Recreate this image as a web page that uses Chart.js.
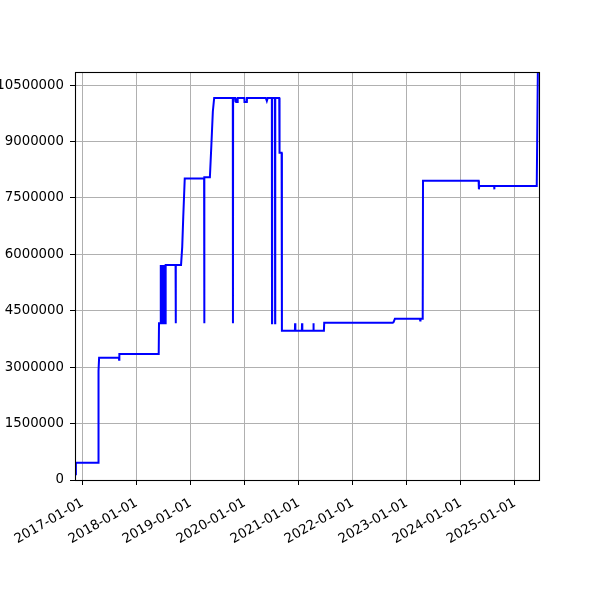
<!DOCTYPE html>
<html>
<head>
<meta charset="utf-8">
<script src="https://cdn.jsdelivr.net/npm/chart.js@4"></script>
<style>
html,body{margin:0;padding:0;background:#fff;}
#wrap{width:600px;height:600px;position:relative;}
</style>
</head>
<body>
<div id="wrap"><canvas id="c" width="600" height="600"></canvas></div>
<script>
const dates = [
'2016-11-14','2016-11-16','2017-04-16','2017-04-18','2017-04-22','2017-09-03','2017-09-04','2017-09-06',
'2018-05-30','2018-06-01','2018-06-12','2018-06-13','2018-06-15','2018-06-17','2018-06-19','2018-06-21',
'2018-06-24','2018-06-26','2018-06-29','2018-07-01','2018-07-04','2018-07-06','2018-07-09','2018-07-11',
'2018-07-14','2018-07-16','2018-09-21','2018-09-22','2018-09-23','2018-10-28','2018-11-05','2018-11-12',
'2018-11-22','2019-04-02','2019-04-03','2019-04-04','2019-05-11','2019-05-21','2019-05-31','2019-06-09',
'2019-10-13','2019-10-14','2019-10-15','2019-10-28','2019-10-29','2019-11-03','2019-11-05','2019-11-14',
'2019-11-15','2019-12-30','2019-12-31','2020-01-16','2020-01-17','2020-05-23','2020-05-30','2020-06-05',
'2020-07-03','2020-07-04','2020-07-05','2020-07-24','2020-07-25','2020-07-26','2020-08-22','2020-08-24',
'2020-09-07','2020-09-09','2020-12-06','2020-12-07','2020-12-09','2021-01-22','2021-01-23','2021-01-25',
'2021-04-09','2021-04-10','2021-04-12','2021-06-20','2021-06-22','2022-09-28','2022-10-04','2022-10-13',
'2023-03-31','2023-04-02','2023-04-04','2023-04-19','2023-04-21','2024-05-01','2024-05-03','2024-05-05',
'2024-08-14','2024-08-15','2024-08-16','2025-05-29','2025-06-07'
];
const values = [
150000,460000,460000,2900000,3250000,3250000,3200000,3350000,
3350000,4170000,4170000,5720000,4170000,5720000,4170000,5720000,
4170000,5720000,4170000,5720000,4170000,5720000,4170000,5720000,
4170000,5720000,5720000,4170000,5720000,5720000,6200000,7000000,
8020000,8020000,4170000,8050000,8050000,8900000,9800000,10160000,
10160000,4170000,10160000,10160000,10050000,10160000,10050000,10050000,
10160000,10160000,10050000,10050000,10160000,10160000,10080000,10160000,
10160000,4170000,10160000,10160000,4170000,10160000,10160000,8700000,
8700000,3970000,3970000,4170000,3970000,3970000,4170000,3970000,
3970000,4170000,3970000,3970000,4180000,4180000,4200000,4290000,
4290000,4240000,4290000,4290000,7960000,7960000,7730000,7820000,
7820000,7730000,7820000,7820000,11500000
];
const xTickLabels = ['2017-01-01','2018-01-01','2019-01-01','2020-01-01','2021-01-01','2022-01-01','2023-01-01','2024-01-01','2025-01-01'];
const yTickValues = [0,1500000,3000000,4500000,6000000,7500000,9000000,10500000];
const xRange = ['2016-11-10','2025-06-20'];
const yMax = 10850000;

const FONT = {family:'"DejaVu Sans"', size:13.3};
const points = dates.map((d,i)=>({x:Date.parse(d), y:values[i]}));

const frame = {
  id:'frame',
  afterDraw(chart){
    const a = chart.chartArea, ctx = chart.ctx;
    ctx.save();
    ctx.strokeStyle = '#000';
    ctx.lineWidth = 1.1;
    ctx.strokeRect(Math.round(a.left)+0.5, Math.round(a.top)+0.5, Math.round(a.right-a.left)-1, Math.round(a.bottom-a.top));
    ctx.restore();
  }
};

new Chart(document.getElementById('c'), {
  type:'line',
  data:{datasets:[{data:points, borderColor:'#0000ff', borderWidth:2, pointRadius:0, tension:0, fill:false}]},
  options:{
    responsive:false, animation:false,
    layout:{padding:{left:0,right:60,top:72,bottom:0}},
    plugins:{legend:{display:false}, tooltip:{enabled:false}},
    scales:{
      x:{
        type:'linear',
        min:Date.parse(xRange[0]), max:Date.parse(xRange[1]),
        afterBuildTicks(s){ s.ticks = xTickLabels.map(t=>({value:Date.parse(t)})); },
        afterFit(s){ s.height = 120; },
        grid:{color:'#b0b0b0', lineWidth:1, tickColor:'#000', tickLength:5, drawTicks:true},
        border:{display:false},
        ticks:{autoSkip:false, minRotation:30, maxRotation:30, color:'#000', font:FONT, padding:10,
          callback(v,i){ return xTickLabels[i]; }}
      },
      y:{
        type:'linear', min:0, max:yMax,
        afterBuildTicks(s){ s.ticks = yTickValues.map(v=>({value:v})); },
        afterFit(s){ s.width = 75; },
        grid:{color:'#b0b0b0', lineWidth:1, tickColor:'#000', tickLength:5, drawTicks:true},
        border:{display:false},
        ticks:{color:'#000', font:FONT, padding:6,
          callback(v){ return String(v); }}
      }
    }
  },
  plugins:[frame]
});
</script>
</body>
</html>
